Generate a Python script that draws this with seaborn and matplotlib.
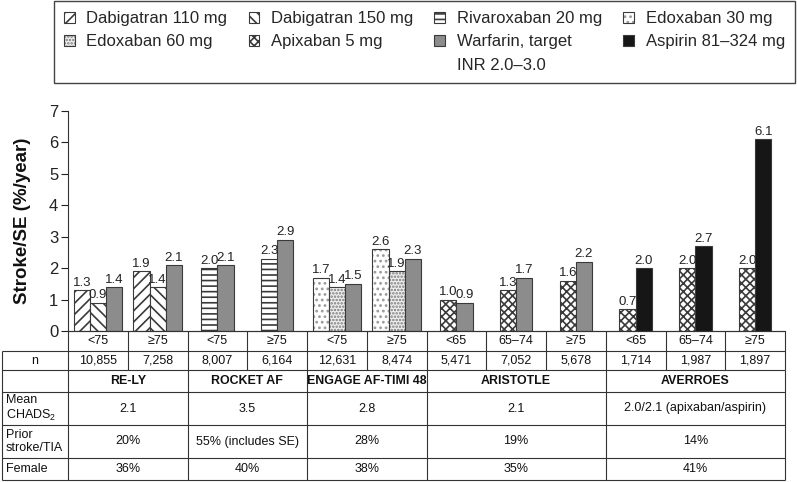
import numpy as np
import pandas as pd
import seaborn as sns
import matplotlib.pyplot as plt
import matplotlib.colors as mcolors
from matplotlib.patches import Patch

# ---- data ----
subgroups = ["<75", "≥75", "<75", "≥75", "<75", "≥75",
             "<65", "65–74", "≥75", "<65", "65–74", "≥75"]
n_patients = ["10,855", "7,258", "8,007", "6,164", "12,631", "8,474",
              "5,471", "7,052", "5,678", "1,714", "1,987", "1,897"]
trials = ["RE-LY", "ROCKET AF", "ENGAGE AF-TIMI 48", "ARISTOTLE", "AVERROES"]
trial_groups = [2, 2, 2, 3, 3]
mean_chads2 = ["2.1", "3.5", "2.8", "2.1", "2.0/2.1 (apixaban/aspirin)"]
prior_stroke = ["20%", "55% (includes SE)", "28%", "19%", "14%"]
female = ["36%", "40%", "38%", "35%", "41%"]

group_drugs = [
    ["Dabigatran 110 mg", "Dabigatran 150 mg", "Warfarin"],
    ["Dabigatran 110 mg", "Dabigatran 150 mg", "Warfarin"],
    ["Rivaroxaban 20 mg", "Warfarin"],
    ["Rivaroxaban 20 mg", "Warfarin"],
    ["Edoxaban 30 mg", "Edoxaban 60 mg", "Warfarin"],
    ["Edoxaban 30 mg", "Edoxaban 60 mg", "Warfarin"],
    ["Apixaban 5 mg", "Warfarin"],
    ["Apixaban 5 mg", "Warfarin"],
    ["Apixaban 5 mg", "Warfarin"],
    ["Apixaban 5 mg", "Aspirin 81–324 mg"],
    ["Apixaban 5 mg", "Aspirin 81–324 mg"],
    ["Apixaban 5 mg", "Aspirin 81–324 mg"],
]
group_rates = [
    [1.3, 0.9, 1.4], [1.9, 1.4, 2.1],
    [2.0, 2.1], [2.3, 2.9],
    [1.7, 1.4, 1.5], [2.6, 1.9, 2.3],
    [1.0, 0.9], [1.3, 1.7], [1.6, 2.2],
    [0.7, 2.0], [2.0, 2.7], [2.0, 6.1],
]

drugs = ["Dabigatran 110 mg", "Dabigatran 150 mg", "Rivaroxaban 20 mg", "Edoxaban 30 mg",
         "Edoxaban 60 mg", "Apixaban 5 mg", "Warfarin", "Aspirin 81–324 mg"]
legend_labels = ["Dabigatran 110 mg", "Dabigatran 150 mg", "Rivaroxaban 20 mg", "Edoxaban 30 mg",
                 "Edoxaban 60 mg", "Apixaban 5 mg", "Warfarin, target", "Aspirin 81–324 mg"]
warfarin_line2 = "INR 2.0–3.0"

# ---- styles ----
face = {"Dabigatran 110 mg": "white", "Dabigatran 150 mg": "white", "Rivaroxaban 20 mg": "white",
        "Edoxaban 30 mg": "white", "Edoxaban 60 mg": "#efefef", "Apixaban 5 mg": "white",
        "Warfarin": "#8c8c8c", "Aspirin 81–324 mg": "#161616"}
hatch = {"Dabigatran 110 mg": "///", "Dabigatran 150 mg": "\\\\\\", "Rivaroxaban 20 mg": "---",
         "Edoxaban 30 mg": "...", "Edoxaban 60 mg": ".....", "Apixaban 5 mg": "xxxx",
         "Warfarin": "", "Aspirin 81–324 mg": ""}
hatch_col = {"Edoxaban 30 mg": "#9a9a9a", "Edoxaban 60 mg": "#7a7a7a"}
EDGE = "#3a3a3a"
BAR_W = 0.27


def style_patch(p, d):
    p.set_hatch(hatch[d])
    if d in hatch_col:
        if hasattr(p, "set_hatchcolor"):
            p.set_hatchcolor(hatch_col[d])
        else:
            p._hatch_color = mcolors.to_rgba(hatch_col[d])


sns.set_theme(style="white")
plt.rcParams["font.family"] = ["Liberation Sans", "DejaVu Sans"]
plt.rcParams["mathtext.fontset"] = "custom"
plt.rcParams["mathtext.rm"] = "Liberation Sans"
plt.rcParams["mathtext.default"] = "regular"
plt.rcParams["hatch.linewidth"] = 1.2

rows = []
for i, (dr, rt) in enumerate(zip(group_drugs, group_rates)):
    for j, (d, r) in enumerate(zip(dr, rt)):
        rows.append({"pos": i + (j - (len(dr) - 1) / 2) * BAR_W, "drug": d, "rate": r})
df = pd.DataFrame(rows)

fig = plt.figure(figsize=(7.97, 4.82), dpi=100)
W, H = 797, 482
ax = fig.add_axes([68 / W, (H - 331) / H, 717 / W, 220 / H])

sns.barplot(data=df, x="pos", y="rate", hue="drug", hue_order=drugs, palette=face,
            native_scale=True, dodge=False, width=1.0, errorbar=None, saturation=1,
            edgecolor=EDGE, linewidth=0.8, legend=False, ax=ax)

for cont in ax.containers:
    for bar in cont:
        xc = bar.get_x() + bar.get_width() / 2
        style_patch(bar, df.loc[(df["pos"] - xc).abs().idxmin(), "drug"])
    ax.bar_label(cont, fmt="%.1f", padding=1, fontsize=9.5, color="#222222")

ax.set_xlim(-0.5, 11.5)
ax.set_ylim(0, 7)
ax.set_xticks([])
ax.set_xlabel("")
ax.set_yticks(range(8))
ax.tick_params(axis="y", left=True, length=5, width=0.8, labelsize=12, colors="#222222", pad=2)
for s in ["top", "right"]:
    ax.spines[s].set_visible(False)
for s in ["left", "bottom"]:
    ax.spines[s].set_color("#333333")
    ax.spines[s].set_linewidth(0.8)
ax.set_ylabel("Stroke/SE (%/year)", fontsize=13.5, fontweight="bold", color="#111111")
ax.yaxis.set_label_coords(-0.051, 0.5)

# ---- table under the bars ----
px_per_unit = 717 / 12
LABEL_LEFT = -0.5 - 66 / px_per_unit
tax = fig.add_axes([2 / W, 2 / H, 783 / W, 149 / H])
tax.set_xlim(LABEL_LEFT, 11.5)
tax.set_ylim(149, 0)
tax.axis("off")
row_edges = [0, 20, 39, 61, 94, 127, 149]
lkw = dict(color="#333333", lw=0.8, clip_on=False)
tax.hlines(0, -0.5, 11.5, **lkw)
tax.hlines(row_edges[1:], LABEL_LEFT, 11.5, **lkw)
tax.vlines(np.arange(13) - 0.5, 0, row_edges[2], **lkw)
tax.vlines(LABEL_LEFT, row_edges[1], row_edges[-1], **lkw)
bounds = np.cumsum([0] + trial_groups) - 0.5
tax.vlines(bounds, row_edges[2], row_edges[-1], **lkw)

mids = [(a + b) / 2 for a, b in zip(row_edges[:-1], row_edges[1:])]
tkw = dict(ha="center", va="center", fontsize=9, color="#111111")
for i, (sg, n) in enumerate(zip(subgroups, n_patients)):
    tax.text(i, mids[0], sg, **tkw)
    tax.text(i, mids[1], n, **tkw)
tax.text((LABEL_LEFT - 0.5) / 2, mids[1], "n", **tkw)
for k, t in enumerate(trials):
    c = (bounds[k] + bounds[k + 1]) / 2
    tax.text(c, mids[2], t, ha="center", va="center", fontsize=8.9, fontweight="bold", color="#111111")
    tax.text(c, mids[3], mean_chads2[k], **tkw)
    tax.text(c, mids[4], prior_stroke[k], **tkw)
    tax.text(c, mids[5], female[k], **tkw)
lx = LABEL_LEFT + 0.06
tax.text(lx, mids[3], "Mean\nCHADS$_2$", ha="left", va="center", fontsize=9, color="#111111", linespacing=1.1)
tax.text(lx, mids[4], "Prior\nstroke/TIA", ha="left", va="center", fontsize=9, color="#111111", linespacing=1.1)
tax.text(lx, mids[5], "Female", ha="left", va="center", fontsize=9, color="#111111")

# ---- legend: 3 rows x 4 columns, filled column by column ----
blank = Patch(facecolor="none", edgecolor="none")


def handle(k):
    p = Patch(facecolor=face[drugs[k]], edgecolor=EDGE, linewidth=0.8)
    style_patch(p, drugs[k])
    return p


handles = [handle(0), handle(4), blank,
           handle(1), handle(5), blank,
           handle(2), handle(6), blank,
           handle(3), handle(7), blank]
labels = [legend_labels[0], legend_labels[4], "",
          legend_labels[1], legend_labels[5], "",
          legend_labels[2], legend_labels[6], warfarin_line2,
          legend_labels[3], legend_labels[7], ""]
leg = fig.legend(handles, labels, ncol=4, loc="upper left", mode="expand",
                 bbox_to_anchor=(54 / W, 0.5, 741 / W, 1 - 1 / H - 0.5), borderaxespad=0,
                 fontsize=12, handlelength=0.65, handleheight=0.65, handletextpad=0.7,
                 labelspacing=0.5, borderpad=0.6, fancybox=False, framealpha=1)
leg.get_frame().set_edgecolor("#444444")
leg.get_frame().set_linewidth(1.0)

fig.savefig("out.png", dpi=100)
